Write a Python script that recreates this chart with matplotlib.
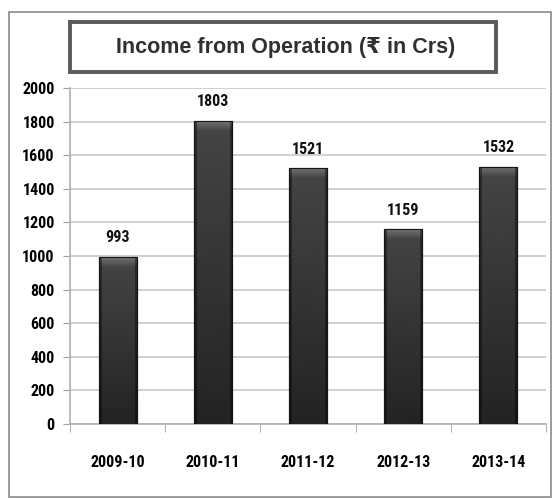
import numpy as np
import matplotlib.pyplot as plt
from matplotlib import font_manager
from matplotlib.patches import Rectangle

years = ["2009-10", "2010-11", "2011-12", "2012-13", "2013-14"]
income = [993, 1803, 1521, 1159, 1532]
y_ticks = [0, 200, 400, 600, 800, 1000, 1200, 1400, 1600, 1800, 2000]
title = "Income from Operation (₹ in Crs)"

# pick a narrow face if one is around, else plain DejaVu
have = {f.name for f in font_manager.fontManager.ttflist}
narrow = [f for f in ["Liberation Sans Narrow", "Roboto Condensed", "Open Sans Condensed",
                      "DejaVu Sans Condensed"] if f in have] + ["DejaVu Sans"]
tick_size = 11.5 if narrow[0] != "DejaVu Sans" else 9.5

fig = plt.figure(figsize=(5.53, 4.99), dpi=100)
W, H = 553, 499

# outer frame of the chart
fig.patches.append(Rectangle((9 / W, 2 / H), 542 / W, 485 / H, transform=fig.transFigure,
                             fill=False, ec="#8a8a8a", lw=1.2))

ax = fig.add_axes([70 / W, 75 / H, 476 / W, 336 / H])
x = np.arange(len(years))
bars = ax.bar(x, income, width=0.4, color="#2e2e2e", edgecolor="#151515", lw=0.8, zorder=3)

# shading: dark bottom -> lighter top, darker side edges
ny, nx = 64, 40
vert = np.linspace(0.14, 0.27, ny)[:, None]
horiz = np.ones(nx)
horiz[:3] = 0.6
horiz[-3:] = 0.6
body = vert * horiz[None, :]
cap = np.linspace(0.27, 0.45, 16)[:, None] * horiz[None, :]
px = 2000 / 336  # data units per pixel
for b in bars:
    x0, w, h = b.get_x(), b.get_width(), b.get_height()
    im = ax.imshow(body, extent=[x0, x0 + w, 0, h], aspect="auto", cmap="gray",
                   vmin=0, vmax=1, zorder=4, origin="lower")
    im.set_clip_path(b)
    im2 = ax.imshow(cap, extent=[x0, x0 + w, h - 10 * px, h], aspect="auto", cmap="gray",
                    vmin=0, vmax=1, zorder=5, origin="lower")
    im2.set_clip_path(b)
    ax.add_patch(Rectangle((x0, 0), w, h, fill=False, ec="#151515", lw=0.8, zorder=6))

for xi, v in zip(x, income):
    ax.text(xi, v + 70, str(v), ha="center", va="bottom", fontsize=tick_size,
            fontweight="bold", family=narrow, color="#111111")

ax.set_xlim(-0.5, len(years) - 0.5)
ax.set_ylim(0, 2000)
ax.set_yticks(y_ticks)
ax.set_yticklabels([str(t) for t in y_ticks], fontsize=tick_size, fontweight="bold", family=narrow)
ax.set_xticks(x)
ax.set_xticklabels(years, fontsize=tick_size, fontweight="bold", family=narrow)
ax.set_xticks(np.arange(-0.5, len(years)), minor=True)
ax.tick_params(axis="x", which="major", length=0, pad=22)
ax.tick_params(axis="x", which="minor", length=6, color="#a0a0a0")
ax.tick_params(axis="y", length=5, color="#a0a0a0", pad=6)
ax.grid(axis="y", color="#c8c8c8", lw=1.2, zorder=0)
for s in ["top", "right"]:
    ax.spines[s].set_visible(False)
ax.spines["left"].set_color("#b0b0b0")
ax.spines["bottom"].set_color("#b0b0b0")
ax.spines["left"].set_linewidth(1.2)
ax.spines["bottom"].set_linewidth(1.2)

# title in a framed box
fig.patches.append(Rectangle((70 / W, (H - 72) / H), 426 / W, 50 / H, transform=fig.transFigure,
                             fc="white", ec="#5a5a5a", lw=2.8))
fig.text(286 / W, (H - 47) / H, title, ha="center", va="center", fontsize=15.5,
         fontweight="bold", family=["Liberation Sans", "DejaVu Sans"], color="#303030")

fig.savefig("out.png", dpi=100)
